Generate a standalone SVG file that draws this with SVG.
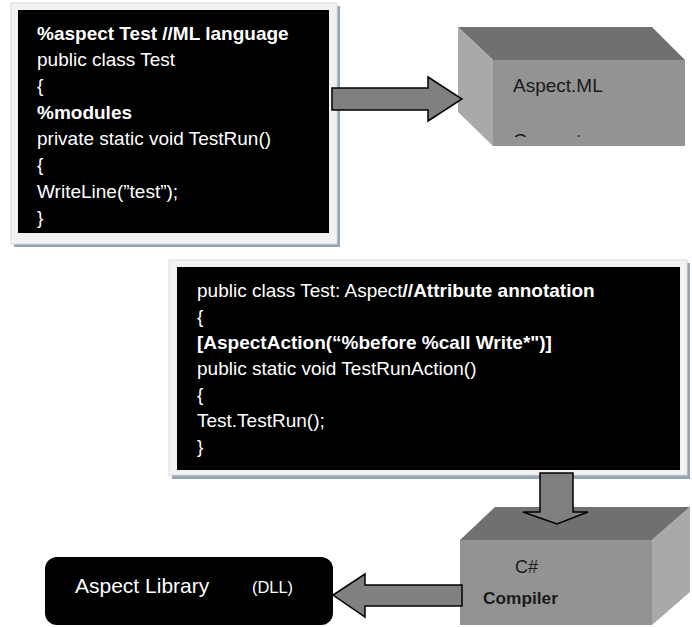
<svg xmlns="http://www.w3.org/2000/svg" width="692" height="627" viewBox="0 0 692 627">
<style>
.code{font-family:"Liberation Sans",Arial,sans-serif;font-size:19px;fill:#ffffff}
.b{font-weight:bold}
.shadow{fill:#97a4b8}
.frame{fill:#f2f2f2;stroke:#dcdcdc;stroke-width:1}
.top{fill:#707070}
.side{fill:#a9a9a9}
.front{fill:#939393}
.arrow{fill:#808080;stroke:#000000;stroke-width:1.5;stroke-linejoin:miter}
.lbl{font-family:"Liberation Sans",Arial,sans-serif;fill:#1a1a1a}
</style>
<defs>
<clipPath id="clipML"><rect x="493" y="60" width="192" height="77"/></clipPath>
</defs>
<rect width="692" height="627" fill="#ffffff"/>

<g id="code1">
<rect class="shadow" x="14" y="6" width="326" height="241"/>
<rect class="frame" x="11" y="3" width="326" height="241"/>
<rect x="18" y="10" width="311" height="223" fill="#000000"/>
<text class="code b" x="37" y="39.5">%aspect Test //ML language</text>
<text class="code" x="37" y="66">public class Test</text>
<text class="code" x="37" y="92">{</text>
<text class="code b" x="37" y="118.5">%modules</text>
<text class="code" x="37" y="145">private static void TestRun()</text>
<text class="code" x="37" y="171">{</text>
<text class="code" x="37" y="198">WriteLine(”test”);</text>
<text class="code" x="37" y="224">}</text>
</g>

<g id="aspectml">
<polygon class="top" points="458,27 652,27 685,60 493,60"/>
<polygon class="side" points="458,27 493,60 493,146 458,112"/>
<rect class="front" x="493" y="60" width="192" height="86"/>
<text class="lbl" x="513" y="92" font-size="19">Aspect.ML</text>
<text class="lbl" x="513" y="147" font-size="19" clip-path="url(#clipML)">Generator</text>
</g>

<g id="code2">
<rect class="shadow" x="172" y="263" width="518" height="216"/>
<rect class="frame" x="169" y="260" width="518" height="215"/>
<rect x="177" y="267" width="503" height="203" fill="#000000"/>
<text class="code" x="197" y="297">public class Test: Aspect<tspan class="b">//Attribute annotation</tspan></text>
<text class="code" x="197" y="323">{</text>
<text class="code b" x="197" y="349">[AspectAction(“%before %call Write*")]</text>
<text class="code" x="197" y="375">public static void TestRunAction()</text>
<text class="code" x="197" y="401">{</text>
<text class="code" x="197" y="427">Test.TestRun();</text>
<text class="code" x="197" y="453">}</text>
</g>

<g id="compiler">
<polygon class="top" points="460,540 495,507 690,507 652,540"/>
<polygon class="side" points="652,540 690,507 690,592 652,625"/>
<rect class="front" x="460" y="540" width="192" height="85"/>
<text class="lbl" x="515" y="573" font-size="18">C#</text>
<text class="lbl" x="483" y="604" font-size="17.3" font-weight="bold">Compiler</text>
</g>

<g id="library">
<rect x="45" y="557" width="288" height="68" rx="12" ry="12" fill="#000000"/>
<text x="75" y="593" font-family="Liberation Sans, Arial, sans-serif" font-size="21" fill="#ffffff">Aspect Library</text>
<text x="252" y="593" font-family="Liberation Sans, Arial, sans-serif" font-size="16.4" fill="#ffffff">(DLL)</text>
</g>

<g id="connectors">
<polygon class="arrow" points="332,88 428,88 428,77 462,99 428,121 428,110 332,110"/>
<polygon class="arrow" points="540,473 573,473 573,512 588,512 557,524 523,512 540,512"/>
<polygon class="arrow" points="462,585 365,585 365,574 333,595 365,617 365,606 462,606"/>
</g>
</svg>
